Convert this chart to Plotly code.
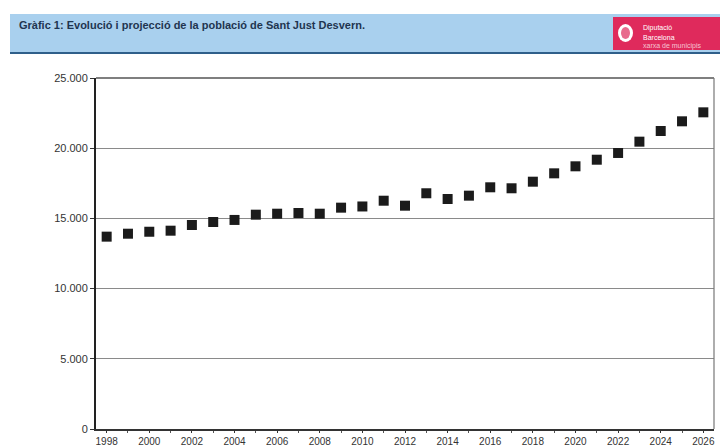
import plotly.graph_objects as go

years = list(range(1998, 2027))
population = [13700, 13910, 14050, 14125, 14530, 14745, 14890, 15265, 15335, 15385,
              15335, 15765, 15850, 16260, 15905, 16790, 16380, 16620, 17215, 17145,
              17615, 18210, 18710, 19180, 19660, 20465, 21225, 21915, 22555]
y_ticks = [0, 5000, 10000, 15000, 20000, 25000]
title_text = "Gràfic 1: Evolució i projecció de la població de Sant Just Desvern."
logo_lines = ["Diputació", "Barcelona", "xarxa de municipis"]

W, H = 720, 448
L, R, T, B = 96, 6, 78, 19
pw, ph = W - L - R, H - T - B

def px(x):
    return (x - L) / pw

def py(y):
    return (H - B - y) / ph

fig = go.Figure()
fig.add_trace(go.Scatter(
    x=years, y=population, mode="markers",
    marker=dict(symbol="square", size=10, color="#1b1b1b"),
    hoverinfo="skip", showlegend=False,
))

shapes = [
    # header band
    dict(type="rect", xref="paper", yref="paper", x0=px(10), x1=px(720), y0=py(52), y1=py(14),
         fillcolor="#a9d0ee", line=dict(width=0), layer="below"),
    dict(type="line", xref="paper", yref="paper", x0=px(10), x1=px(720), y0=py(53), y1=py(53),
         line=dict(color="#2f5f8a", width=2)),
    # logo
    dict(type="rect", xref="paper", yref="paper", x0=px(613), x1=px(720), y0=py(50), y1=py(17),
         fillcolor="#df2a5c", line=dict(width=0)),
    dict(type="circle", xref="paper", yref="paper", x0=px(618), x1=px(633), y0=py(42), y1=py(24),
         fillcolor="#ffffff", line=dict(width=0)),
    dict(type="circle", xref="paper", yref="paper", x0=px(621), x1=px(630), y0=py(39), y1=py(27),
         fillcolor="#e86b8d", line=dict(width=0)),
    # plot frame top and right
    dict(type="line", xref="paper", yref="paper", x0=0, x1=1, y0=1, y1=1,
         line=dict(color="#555555", width=1.5)),
    dict(type="line", xref="paper", yref="paper", x0=1, x1=1, y0=0, y1=1,
         line=dict(color="#777777", width=1.2)),
]

annotations = [
    dict(xref="paper", yref="paper", x=px(17), y=py(25), xanchor="left", yanchor="middle",
         text="<b>" + title_text + "</b>", showarrow=False,
         font=dict(family="Liberation Sans", size=11, color="#1f3550")),
]
for i, t in enumerate(logo_lines):
    annotations.append(dict(xref="paper", yref="paper", x=px(641), y=py(28 + i * 9),
                            xanchor="left", yanchor="middle", text=t, showarrow=False,
                            font=dict(family="Liberation Sans", size=7,
                                      color="#ffffff" if i < 2 else "#f6c3d2")))

fig.update_layout(
    width=W, height=H,
    margin=dict(l=L, r=R, t=T, b=B, autoexpand=False),
    paper_bgcolor="#ffffff", plot_bgcolor="#ffffff",
    separators=",.",
    shapes=shapes, annotations=annotations,
    font=dict(family="Liberation Sans", size=11, color="#333333"),
    xaxis=dict(
        range=[1997.5, 2026.5], tickmode="linear", tick0=1998, dtick=2,
        showgrid=False, zeroline=False, automargin=False,
        showline=True, linecolor="#333333", linewidth=1.5,
        ticks="outside", ticklen=2, tickcolor="#333333",
        minor=dict(dtick=1, ticks="outside", ticklen=2, tickcolor="#555555"),
        tickfont=dict(size=10, color="#333333"),
    ),
    yaxis=dict(
        range=[0, 25000], tickvals=y_ticks, tickformat=",d", automargin=False,
        showgrid=True, gridcolor="#8a8a8a", gridwidth=1,
        zeroline=False, showline=True, linecolor="#222222", linewidth=2,
        ticks="outside", ticklen=4, tickcolor="#333333",
        tickfont=dict(size=11, color="#333333"),
    ),
)

fig.write_html("out.html", config={"displayModeBar": False},
               post_script="document.body.style.margin='0';")
